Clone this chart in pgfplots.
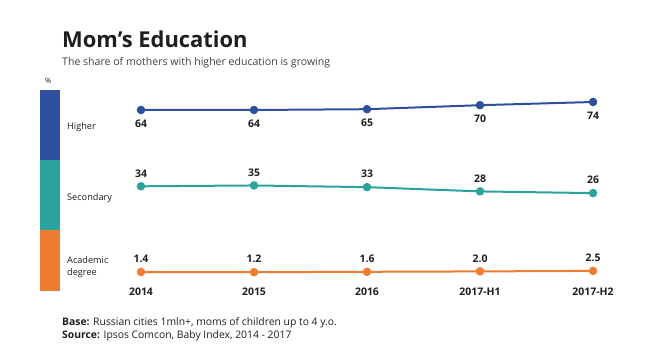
\documentclass[border=0pt]{standalone}
\usepackage{pgfplots}
\pgfplotsset{compat=1.18}
\usepackage{fontspec}
\setmainfont{Open Sans}
\definecolor{cblue}{RGB}{46,78,158}
\definecolor{cteal}{RGB}{42,163,157}
\definecolor{corange}{RGB}{240,124,50}
\definecolor{ctext}{RGB}{30,30,30}
\pgfplotsset{
  base/.style={scale only axis, width=452bp, xmin=0, xmax=4, clip=false,
    anchor=south west, line width=2bp,
    /pgf/number format/assume math mode=true},
}
\begin{document}
\begin{tikzpicture}[x=1bp,y=1bp]
\useasboundingbox (0,0) rectangle (647,356);
% titles
\node[anchor=base west, inner sep=0, font=\fontsize{22}{24}\selectfont\bfseries, text=ctext] at (62,309) {Mom’s Education};
\node[anchor=base west, inner sep=0, font=\fontsize{10.6}{12}\selectfont, text=ctext!85] at (62,291) {The share of mothers with higher education is growing};
\node[anchor=base west, inner sep=0, font=\fontsize{7.5}{9}\selectfont, text=ctext] at (45,273) {\%};
% colour bands
\fill[cblue] (40,266) rectangle (60,196);
\fill[cteal] (40,196) rectangle (60,126);
\fill[corange] (40,126) rectangle (60,65);
\node[anchor=west, inner sep=0, font=\fontsize{9.2}{10}\selectfont, text=ctext] at (67,229) {Higher};
\node[anchor=west, inner sep=0, font=\fontsize{9.2}{10}\selectfont, text=ctext] at (67,158) {Secondary};
\node[anchor=west, inner sep=0, align=left, font=\fontsize{9.2}{12}\selectfont, text=ctext] at (67,89) {Academic\\degree};
% Higher
\begin{axis}[base, at={(141bp,196bp)}, height=70bp, ymin=1.5, ymax=89, hide axis,
  nodes near coords, every node near coord/.append style={anchor=center, yshift=-14bp, font=\fontsize{10.5}{12}\selectfont\bfseries, text=ctext}]
\addplot[cblue, mark=*, mark size=3.2bp, mark options={solid}] coordinates {(0,64) (1,64) (2,65) (3,70) (4,74)};
\end{axis}
% Secondary
\begin{axis}[base, at={(141bp,126bp)}, height=70bp, ymin=-17.4, ymax=64.95, hide axis,
  nodes near coords, every node near coord/.append style={anchor=center, yshift=13bp, font=\fontsize{10.5}{12}\selectfont\bfseries, text=ctext}]
\addplot[cteal, mark=*, mark size=3.2bp] coordinates {(0,34) (1,35) (2,33) (3,28) (4,26)};
\end{axis}
% Academic degree
\begin{axis}[base, at={(141bp,72bp)}, height=54bp, ymin=-10.6, ymax=43.4,
  axis x line=bottom, axis y line=none, x axis line style={draw=none},
  xtick={0,1,2,3,4}, xticklabels={2014,2015,2016,2017-H1,2017-H2},
  major tick length=0pt,
  xticklabel style={font=\fontsize{10.5}{12}\selectfont\bfseries, text=ctext},
  nodes near coords, point meta=explicit symbolic,
  every node near coord/.append style={anchor=center, yshift=13bp, font=\fontsize{10.5}{12}\selectfont\bfseries, text=ctext}]
\addplot[corange, mark=*, mark size=3.2bp] coordinates {(0,1.4) [1.4] (1,1.2) [1.2] (2,1.6) [1.6] (3,2.0) [2.0] (4,2.5) [2.5]};
\end{axis}
% footer
\node[anchor=base west, inner sep=0, font=\fontsize{10.4}{12}\selectfont, text=ctext] at (62,31) {\textbf{Base:} Russian cities 1mln+, moms of children up to 4 y.o.};
\node[anchor=base west, inner sep=0, font=\fontsize{10.4}{12}\selectfont, text=ctext] at (62,18) {\textbf{Source:} Ipsos Comcon, Baby Index, 2014 - 2017};
\end{tikzpicture}
\end{document}
